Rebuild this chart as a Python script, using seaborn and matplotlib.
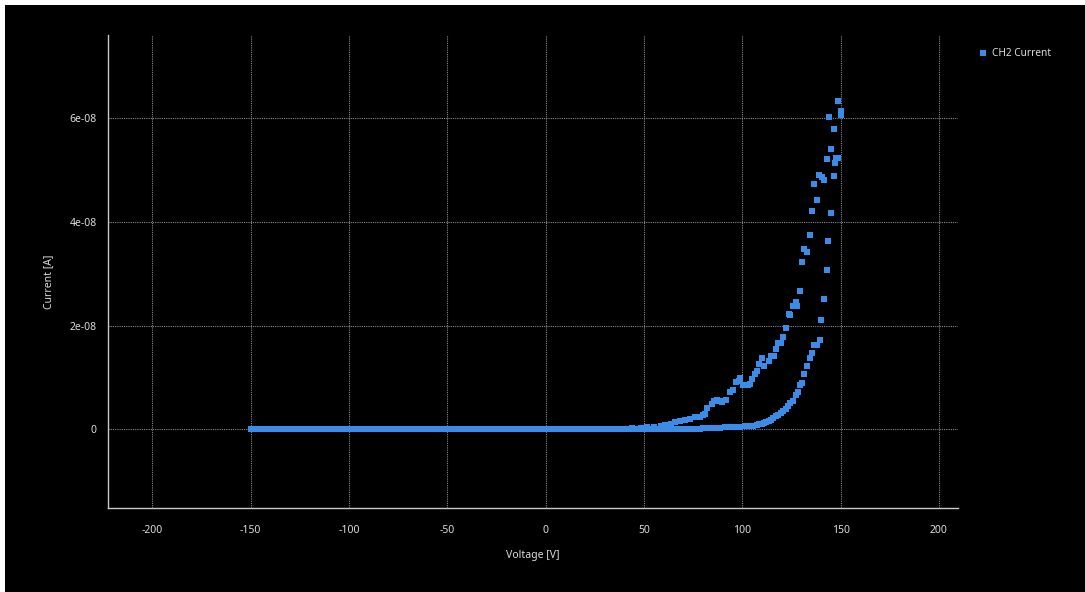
import numpy as np
import pandas as pd
import matplotlib
matplotlib.use("Agg")
import matplotlib.pyplot as plt
from matplotlib.patches import Rectangle
from matplotlib.ticker import FuncFormatter
import seaborn as sns

# --- IV sweep of channel 2: voltage [V], current [nA] ---
# flat part of the sweep (leakage below the display resolution)
baseline_v = list(range(-150, 78, 2))
baseline_i = [0.0] * len(baseline_v)

# ramp up towards +150 V
up_v = [78.4, 80.0, 82.0, 84.0, 86.0, 88.6, 91.0, 93.7, 96.0, 98.8, 101.5, 103.9,
        105.5, 107.3, 108.7, 109.9, 111.1, 112.2, 113.4, 114.6, 115.8, 117.2,
        118.4, 119.7, 120.9, 122.1, 123.3, 124.5, 125.9, 127.2, 128.1, 129.4,
        130.6, 131.6, 133.0, 134.4, 135.7, 136.7, 137.9, 139.3, 140.1, 141.5,
        142.9, 143.7, 145.1, 146.4, 147.3, 148.6, 150.0]
up_i = [0.1, 0.15, 0.2, 0.2, 0.25, 0.3, 0.35, 0.4, 0.45, 0.5, 0.55, 0.6,
        0.7, 0.8, 0.95, 1.1, 1.2, 1.4, 1.6, 1.8, 2.1, 2.5,
        2.8, 3.1, 3.5, 3.9, 4.5, 5.0, 5.5, 6.6, 7.2, 8.5,
        9.0, 10.7, 12.2, 13.8, 14.7, 16.3, 16.3, 17.2, 21.1, 25.2,
        30.8, 36.4, 41.7, 48.9, 51.3, 52.4, 60.7]

# ramp back down from +150 V
down_v = [150.0, 148.6, 147.4, 146.4, 145.1, 143.9, 142.9, 141.7, 140.3, 139.1,
          137.8, 136.6, 135.7, 134.4, 133.0, 131.6, 130.6, 129.4, 128.0, 127.2,
          125.9, 124.5, 123.5, 122.1, 120.9, 119.9, 118.4, 117.2, 116.2, 114.6,
          113.4, 111.1, 110.0, 108.7, 107.5, 106.3, 105.1, 103.9, 102.7, 101.5,
          100.2, 99.0, 98.1, 96.9, 95.4, 93.7, 91.7, 89.8, 88.6, 87.2,
          85.7, 84.5, 82.1, 81.1, 79.8, 78.4, 76.1, 73.6, 71.0, 68.5,
          66.0, 63.5, 60.9, 58.4, 55.0, 51.7, 48.3, 44.0, 40.0, 36.0]
down_i = [61.5, 63.3, 52.4, 57.9, 54.0, 60.3, 52.1, 48.2, 48.6, 49.0,
          44.2, 47.3, 42.2, 37.4, 34.3, 34.7, 32.2, 26.7, 23.8, 24.6,
          23.8, 22.1, 22.3, 19.5, 17.8, 16.7, 16.7, 15.5, 14.1, 14.1,
          13.2, 12.3, 13.8, 12.6, 11.2, 10.7, 9.7, 8.7, 8.6, 8.6,
          8.6, 9.8, 9.4, 9.1, 7.5, 7.1, 5.7, 5.3, 5.5, 5.7,
          5.5, 4.9, 4.1, 3.0, 2.8, 2.4, 2.3, 2.0, 1.8, 1.6,
          1.35, 1.0, 0.84, 0.64, 0.5, 0.45, 0.3, 0.2, 0.1, 0.05]

x_ticks = [-200, -150, -100, -50, 0, 50, 100, 150, 200]
y_ticks = [0, 2e-8, 4e-8, 6e-8]

df = pd.DataFrame({
    "voltage": baseline_v + up_v + down_v,
    "current": np.array(baseline_i + up_i + down_i) * 1e-9,
})

W, H = 1085, 592
BG = "#000000"
FG = "#dcdcdc"
POINT = "#3a8ce8"

sns.set_theme(style="dark")
plt.rcParams["font.family"] = ["Noto Sans", "DejaVu Sans"]
plt.rcParams["axes.unicode_minus"] = False

fig = plt.figure(figsize=(W / 100, H / 100), dpi=100)
fig.patch.set_facecolor("white")
# black canvas with a thin white margin along the top and left edges
fig.patches.append(Rectangle((5 / W, 0), 1 - 5 / W, 1 - 5 / H,
                             transform=fig.transFigure, facecolor=BG,
                             edgecolor="none", zorder=-10))

ax = fig.add_axes([108 / W, 1 - 508 / H, (958 - 108) / W, (508 - 35) / H])
ax.set_facecolor(BG)

sns.scatterplot(data=df, x="voltage", y="current", ax=ax, marker="s", s=22,
                color=POINT, linewidth=0, label="CH2 Current", zorder=3)

ax.set_xlim(-222.6, 209.7)
ax.set_ylim(-1.52e-8, 7.61e-8)
ax.set_xticks(x_ticks)
ax.set_yticks(y_ticks)
ax.yaxis.set_major_formatter(FuncFormatter(lambda v, _: "0" if v == 0 else f"{v:.0e}"))

ax.grid(True, color="#8a8a8a", linestyle=(0, (1, 1)), linewidth=0.8)
for side in ("top", "right"):
    ax.spines[side].set_visible(False)
for side in ("left", "bottom"):
    ax.spines[side].set_visible(True)
    ax.spines[side].set_color("#c8c8c8")
    ax.spines[side].set_linewidth(1.0)

ax.tick_params(axis="both", colors="#c8c8c8", labelcolor=FG, labelsize=7.5,
               length=4, width=1, direction="out")
ax.tick_params(axis="x", pad=8)
ax.tick_params(axis="y", pad=4)

ax.set_xlabel("Voltage [V]", color=FG, fontsize=7.5)
ax.set_ylabel("Current [A]", color=FG, fontsize=7.5)
ax.xaxis.set_label_coords(0.5, -0.088)
ax.yaxis.set_label_coords(-0.063, 0.478)

leg = ax.legend(loc="upper left", bbox_to_anchor=(974 / W, 1 - 44 / H),
                bbox_transform=fig.transFigure, frameon=False, fontsize=7.3,
                handletextpad=0.35, handlelength=1.0, borderaxespad=0,
                markerscale=0.95)
for t in leg.get_texts():
    t.set_color(FG)

fig.savefig("out.png", dpi=100, facecolor=fig.get_facecolor())
